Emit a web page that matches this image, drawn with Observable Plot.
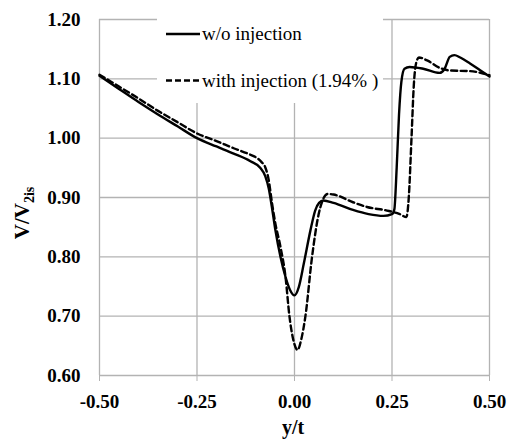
<!DOCTYPE html>
<html>
<head>
<meta charset="utf-8">
<script src="https://cdn.jsdelivr.net/npm/d3@7"></script>
<script src="https://cdn.jsdelivr.net/npm/@observablehq/plot@0.6"></script>
<style>
  html, body { margin: 0; padding: 0; background: #fff; }
  svg { display: block; }
  svg, svg text, svg tspan { font-family: "Liberation Serif", "DejaVu Serif", Tinos, "Times New Roman", Times, "Nimbus Roman", "Noto Serif", FreeSerif, "Noto Serif CJK SC", serif !important; }
</style>
</head>
<body>
<div id="chart"></div>
<script>
// ---- data ----
const xTicks = [-0.5, -0.25, 0, 0.25, 0.5];
const yTicks = [0.6, 0.7, 0.8, 0.9, 1.0, 1.1, 1.2];
const seriesNames = ["w/o injection", "with injection (1.94% )"];

const xSolid = [-0.5, -0.45, -0.4, -0.35, -0.3, -0.25, -0.2, -0.156, -0.113, -0.088, -0.075, -0.066, -0.058, -0.049, -0.036, -0.023, -0.012, 0.0, 0.011, 0.024, 0.041, 0.053, 0.063, 0.074, 0.10, 0.15, 0.19, 0.228, 0.25, 0.256, 0.262, 0.268, 0.274, 0.282, 0.295, 0.33, 0.372, 0.385, 0.398, 0.41, 0.425, 0.45, 0.475, 0.5];
const ySolid = [1.105, 1.083, 1.061, 1.040, 1.020, 1.000, 0.986, 0.974, 0.961, 0.950, 0.936, 0.915, 0.884, 0.845, 0.800, 0.766, 0.745, 0.735, 0.749, 0.789, 0.845, 0.878, 0.891, 0.895, 0.891, 0.879, 0.872, 0.869, 0.872, 0.880, 0.950, 1.040, 1.095, 1.117, 1.120, 1.117, 1.110, 1.117, 1.137, 1.140, 1.136, 1.126, 1.115, 1.104];

const xDashed = [-0.5, -0.45, -0.4, -0.35, -0.3, -0.25, -0.2, -0.156, -0.113, -0.095, -0.085, -0.075, -0.066, -0.058, -0.049, -0.036, -0.023, -0.013, -0.003, 0.008, 0.017, 0.028, 0.045, 0.062, 0.072, 0.085, 0.10, 0.15, 0.186, 0.237, 0.27, 0.287, 0.293, 0.300, 0.306, 0.312, 0.319, 0.34, 0.374, 0.40, 0.45, 0.5];
const yDashed = [1.107, 1.087, 1.067, 1.046, 1.027, 1.008, 0.995, 0.983, 0.972, 0.966, 0.960, 0.951, 0.929, 0.892, 0.856, 0.817, 0.766, 0.700, 0.660, 0.643, 0.660, 0.700, 0.800, 0.872, 0.895, 0.906, 0.905, 0.892, 0.884, 0.878, 0.872, 0.867, 0.900, 1.000, 1.090, 1.127, 1.136, 1.131, 1.118, 1.114, 1.113, 1.106];

const solid = xSolid.map((x, i) => ({x, y: ySolid[i]}));
const dashed = xDashed.map((x, i) => ({x, y: yDashed[i]}));

const FONT = "Liberation Serif, DejaVu Serif, Tinos, Times New Roman, Times, Nimbus Roman, Noto Serif, FreeSerif, serif";
const GRID = "#b3b3b3";

const chart = Plot.plot({
  width: 507,
  height: 439,
  marginLeft: 99,
  marginRight: 18,
  marginTop: 19,
  marginBottom: 64,
  style: {fontFamily: FONT, fontSize: "19px", fontWeight: "bold", color: "#000", background: "#fff"},
  x: {domain: [-0.5, 0.5]},
  y: {domain: [0.6, 1.2]},
  marks: [
    Plot.ruleX(xTicks, {stroke: GRID, strokeWidth: 1.3, strokeOpacity: 1}),
    Plot.ruleY(yTicks, {stroke: GRID, strokeWidth: 1.3, strokeOpacity: 1}),
    Plot.axisX({ticks: xTicks, tickFormat: d => d.toFixed(2), tickSize: 6, tickPadding: 13, stroke: GRID, label: null, fontSize: 19}),
    Plot.axisY({ticks: yTicks, tickFormat: d => d.toFixed(2), tickSize: 0, tickPadding: 19, label: null, fontSize: 19}),
    Plot.line(solid, {x: "x", y: "y", stroke: "#000", strokeWidth: 2.4, curve: "monotone-x"}),
    Plot.line(dashed, {x: "x", y: "y", stroke: "#000", strokeWidth: 2.4, strokeDasharray: "6,3.5", curve: "monotone-x"})
  ]
});

document.getElementById("chart").appendChild(chart);

// legend box + legend + axis titles
const ns = "http://www.w3.org/2000/svg";
const firstLine = chart.querySelector("[aria-label='line']");
const box = document.createElementNS(ns, "rect");
box.setAttribute("x", 157); box.setAttribute("y", 17);
box.setAttribute("width", 226); box.setAttribute("height", 86);
box.setAttribute("fill", "#fff");
chart.insertBefore(box, firstLine);

const g = document.createElementNS(ns, "g");
g.setAttribute("font-family", FONT);
g.setAttribute("text-anchor", "start");
chart.appendChild(g);
function add(tag, attrs, text) {
  const el = document.createElementNS(ns, tag);
  for (const k in attrs) el.setAttribute(k, attrs[k]);
  if (text != null) el.textContent = text;
  g.appendChild(el);
  return el;
}
add("line", {x1: 166, x2: 200, y1: 34, y2: 34, stroke: "#000", "stroke-width": 2.4});
add("text", {x: 202, y: 40, "font-size": 19, "font-weight": "normal", fill: "#000", "text-anchor": "start"}, seriesNames[0]);
add("line", {x1: 166, x2: 200, y1: 80.5, y2: 80.5, stroke: "#000", "stroke-width": 2.4, "stroke-dasharray": "6,3"});
add("text", {x: 202, y: 86.5, "font-size": 19, "font-weight": "normal", fill: "#000", "text-anchor": "start"}, seriesNames[1]);

add("text", {x: 293, y: 434, "font-size": 20, "font-weight": "bold", "text-anchor": "middle", fill: "#000"}, "y/t");
const yl = add("text", {transform: "translate(29,213) rotate(-90)", "font-size": 21, "font-weight": "bold", "text-anchor": "middle", fill: "#000"});
yl.appendChild(document.createTextNode("V/V"));
const sub = document.createElementNS(ns, "tspan");
sub.setAttribute("font-size", 14); sub.setAttribute("dy", 5);
sub.textContent = "2is";
yl.appendChild(sub);
</script>
</body>
</html>
